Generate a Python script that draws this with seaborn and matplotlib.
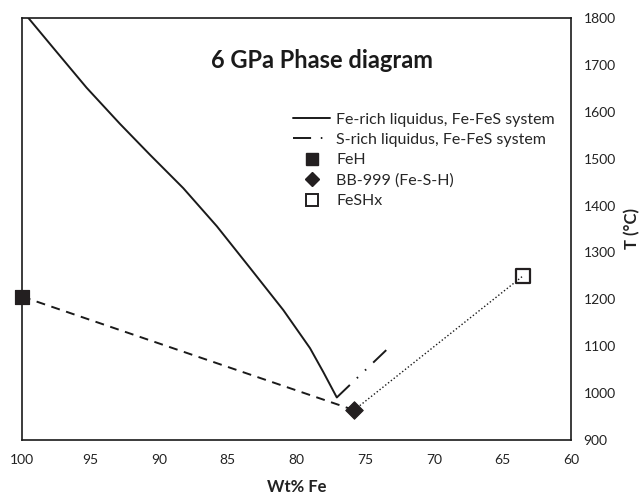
import matplotlib
matplotlib.use("Agg")
import matplotlib.pyplot as plt
from matplotlib.lines import Line2D
import seaborn as sns
import pandas as pd

# Data
fe_rich_x = [99.54, 97.72, 95.29, 92.86, 90.67, 88.25, 85.81, 83.39, 80.96, 79.02, 78.05, 77.07]
fe_rich_t = [1800, 1736, 1651, 1574, 1508, 1437, 1356, 1267, 1177, 1096, 1045, 991]
s_rich_x = [77.07, 73.43]
s_rich_t = [991, 1093]
feh_x, feh_t = [100.0], [1206]
bb_x, bb_t = [75.81], [964]
feshx_x, feshx_t = [63.51], [1250]
xticks = [100, 95, 90, 85, 80, 75, 70, 65, 60]
yticks = [900, 1000, 1100, 1200, 1300, 1400, 1500, 1600, 1700, 1800]

sns.set_theme(style="white")
plt.rcParams['font.family'] = ['Lato', 'DejaVu Sans']

fig = plt.figure(figsize=(6.44, 4.94), dpi=100)
ax = fig.add_axes([0.034, 0.109, 0.853, 0.855])

df_fe = pd.DataFrame({"x": fe_rich_x, "t": fe_rich_t})
df_s = pd.DataFrame({"x": s_rich_x, "t": s_rich_t})
df_dash = pd.DataFrame({"x": feh_x + bb_x, "t": feh_t + bb_t})
df_dot = pd.DataFrame({"x": bb_x + feshx_x, "t": bb_t + feshx_t})

C = "#1a1a1a"
sns.lineplot(data=df_fe, x="x", y="t", ax=ax, color=C, lw=1.4, sort=False, estimator=None)
sns.lineplot(data=df_s, x="x", y="t", ax=ax, color=C, lw=1.4, sort=False, estimator=None,
             linestyle=(0, (9.3, 5, 0.8, 5, 0.8, 5)))
sns.lineplot(data=df_dash, x="x", y="t", ax=ax, color=C, lw=1.4, sort=False, estimator=None,
             linestyle=(0, (4.6, 3.4)))
sns.lineplot(data=df_dot, x="x", y="t", ax=ax, color=C, lw=1.0, sort=False, estimator=None,
             linestyle=(0, (1, 1.6)))

sns.scatterplot(x=feh_x, y=feh_t, ax=ax, marker="s", s=115, color="#231f20", edgecolor="#231f20", zorder=5, clip_on=False)
sns.scatterplot(x=bb_x, y=bb_t, ax=ax, marker="D", s=80, color="#231f20", edgecolor="#231f20", zorder=5, clip_on=False)
sns.scatterplot(x=feshx_x, y=feshx_t, ax=ax, marker="s", s=100, facecolor="none", edgecolor="#231f20", linewidth=1.6, zorder=5)

ax.set_xlim(100, 60)
ax.set_ylim(900, 1800)
ax.set_xticks(xticks)
ax.set_yticks(yticks)
ax.yaxis.tick_right()
ax.yaxis.set_label_position("right")
ax.tick_params(axis="both", length=0, labelsize=10, colors="#222222")
ax.tick_params(axis="x", pad=10)
ax.tick_params(axis="y", pad=9)
ax.set_xlabel("Wt% Fe", fontsize=12, fontweight="bold", labelpad=9, color="#222222")
ax.set_ylabel("T (°C)", fontsize=12, fontweight="bold", labelpad=6, color="#222222")
for s in ax.spines.values():
    s.set_visible(True)
    s.set_color(C)
    s.set_linewidth(1.2)

ax.text(0.546, 0.90, "6 GPa Phase diagram", transform=ax.transAxes, ha="center", va="center",
        fontsize=17, fontweight="bold", color=C)

handles = [
    Line2D([], [], color=C, lw=1.4),
    Line2D([], [], color=C, lw=1.4, linestyle=(0, (9.3, 5, 0.8, 5))),
    Line2D([], [], color="#231f20", marker="s", linestyle="none", markersize=9),
    Line2D([], [], color="#231f20", marker="D", linestyle="none", markersize=7),
    Line2D([], [], color="#231f20", marker="s", linestyle="none", markersize=9,
           markerfacecolor="white", markeredgewidth=1.4),
]
labels = ["Fe-rich liquidus, Fe-FeS system", "S-rich liquidus, Fe-FeS system", "FeH",
          "BB-999 (Fe-S-H)", "FeSHx"]
ax.legend(handles, labels, loc="upper left", bbox_to_anchor=(0.494, 0.776), frameon=False,
          fontsize=11.5, handlelength=2.3, handletextpad=0.4, labelspacing=0.39, borderpad=0,
          borderaxespad=0)

fig.savefig("out.png", dpi=100)
